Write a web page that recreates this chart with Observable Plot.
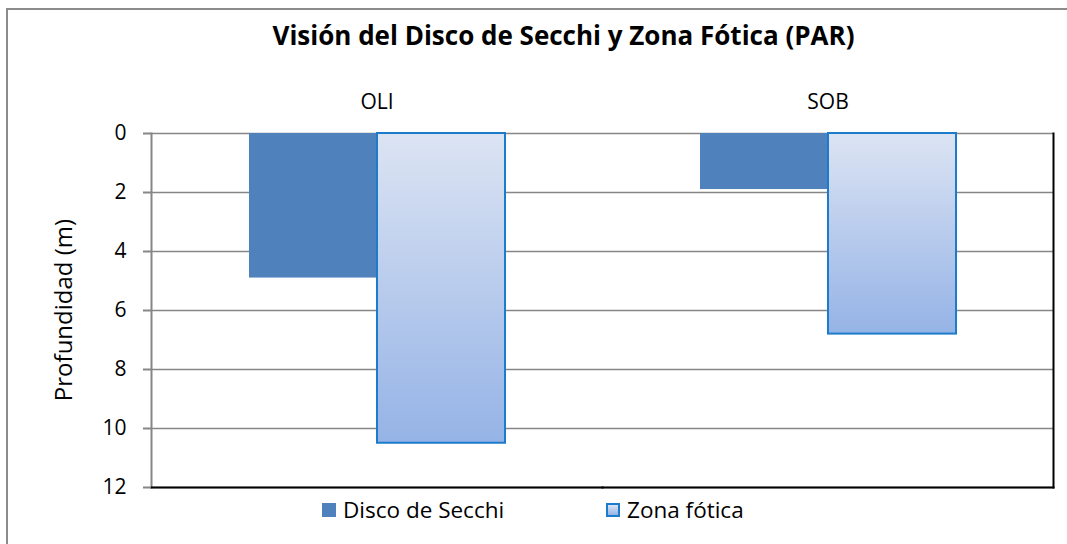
<!DOCTYPE html>
<html><head><meta charset="utf-8">
<script src="https://cdn.jsdelivr.net/npm/d3@7"></script>
<script src="https://cdn.jsdelivr.net/npm/@observablehq/plot@0.6"></script>
<style>
body{margin:0;background:#fff;font-family:"Open Sans",Lato,sans-serif;}
#wrap{position:relative;width:1067px;height:544px;overflow:hidden;background:#fff;}
#border{position:absolute;left:6px;top:8px;width:1200px;height:700px;border-left:2px solid #8c8c8c;border-top:2px solid #8c8c8c;}
#title{position:absolute;left:30px;top:18px;width:1067px;text-align:center;font-weight:bold;font-size:26px;line-height:34px;color:#000;}
#ylab{position:absolute;left:62px;top:310px;transform:translate(-50%,-50%) rotate(-90deg);white-space:nowrap;font-size:24px;color:#000;}
#chart{position:absolute;left:0;top:0;}
.leg{position:absolute;top:496px;font-size:22.5px;color:#000;display:flex;align-items:center;line-height:28px;}
.sw{display:inline-block;width:14px;height:14px;margin-right:7px;box-sizing:border-box;}
</style></head>
<body>
<svg width="0" height="0" style="position:absolute">
 <defs>
  <linearGradient id="zg" x1="0" y1="0" x2="0" y2="1">
   <stop offset="0" stop-color="#DCE4F3"/>
   <stop offset="1" stop-color="#95B3E6"/>
  </linearGradient>
 </defs>
</svg>
<div id="wrap">
 <div id="border"></div>
 <div id="title">Visión del Disco de Secchi y Zona Fótica (PAR)</div>
 <div id="ylab">Profundidad (m)</div>
 <div id="chart"></div>
 <div class="leg" style="left:322px"><span class="sw" style="background:#4F81BD"></span><span>Disco de Secchi</span></div>
 <div class="leg" style="left:606px"><span class="sw" style="background:linear-gradient(#DCE4F3,#95B3E6);border:2px solid #1C7BCB"></span><span>Zona fótica</span></div>
</div>
<script>
const categories = ["OLI", "SOB"];
const series = ["Disco de Secchi", "Zona fótica"];
const secchi = [4.9, 1.9];
const zona = [10.5, 6.8];
const yTicks = [0, 2, 4, 6, 8, 10, 12];

const rows = categories.flatMap((c, i) => [
  {cat: c, serie: series[0], v: secchi[i]},
  {cat: c, serie: series[1], v: zona[i]}
]);

const chart = Plot.plot({
  width: 1067, height: 544,
  marginTop: 133, marginBottom: 57, marginLeft: 150, marginRight: 14,
  style: {fontFamily: "'Open Sans', Lato, sans-serif", fontSize: "21px", color: "#000", background: "transparent"},
  fx: {domain: categories, padding: 0, label: null},
  x: {domain: series, paddingInner: 0, paddingOuter: 0.757, axis: null},
  y: {domain: [0, 12], reverse: true, ticks: yTicks},
  marks: [
    Plot.ruleY(yTicks, {stroke: "#868686", strokeWidth: 1.5}),
    Plot.barY(rows.filter(d => d.serie === series[0]), {fx: "cat", x: "serie", y1: 0, y2: "v", fill: "#4F81BD"}),
    Plot.barY(rows.filter(d => d.serie === series[1]), {fx: "cat", x: "serie", y1: 0, y2: "v", fill: "url(#zg)", stroke: "#1C7BCB", strokeWidth: 2}),
    Plot.frame({anchor: "left", facetAnchor: "left", stroke: "#868686", strokeWidth: 2}),
    Plot.frame({anchor: "right", facetAnchor: "right", stroke: "#000", strokeWidth: 2}),
    Plot.frame({anchor: "bottom", stroke: "#000", strokeWidth: 2}),
    Plot.axisY({ticks: yTicks, tickSize: 8, tickPadding: 17, stroke: "#868686", strokeWidth: 2, fill: "#000",
      fontSize: 21, label: null}),
    Plot.axisFx({anchor: "top", tickSize: 0, tickPadding: 25, label: null, fontSize: 21})
  ]
});
document.getElementById("chart").appendChild(chart);
</script>
</body></html>
